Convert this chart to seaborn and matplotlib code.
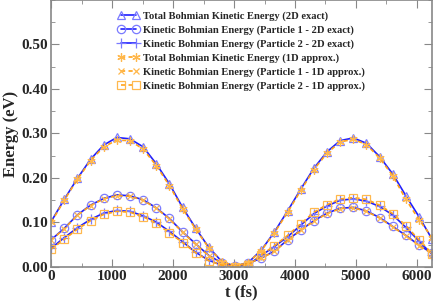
import numpy as np
import pandas as pd
import matplotlib
matplotlib.use("Agg")
import matplotlib.pyplot as plt
import seaborn as sns
from matplotlib.ticker import MultipleLocator

sns.set_style("ticks")
plt.rcParams['font.family'] = ['Liberation Serif', 'DejaVu Serif']
plt.rcParams['font.weight'] = 'bold'

# time axis (fs)
t = [0, 215.5, 431, 646.5, 862, 1077.5, 1293, 1508.5, 1724, 1939.5,
     2155, 2370.5, 2586, 2801.5, 3017, 3232.5, 3448, 3663.5, 3879, 4094.5,
     4310, 4525.5, 4741, 4956.5, 5172, 5387.5, 5603, 5818.5, 6034, 6250]

# 2D exact
total_2d = [0.102, 0.152, 0.199, 0.242, 0.274, 0.291, 0.288, 0.270, 0.232, 0.187,
            0.134, 0.087, 0.044, 0.012, 0.002, 0.010, 0.038, 0.079, 0.126, 0.175,
            0.222, 0.259, 0.284, 0.290, 0.278, 0.248, 0.209, 0.160, 0.113, 0.062]
p1_2d = [0.061, 0.087, 0.117, 0.139, 0.154, 0.162, 0.160, 0.151, 0.133, 0.109,
         0.079, 0.052, 0.026, 0.009, 0.002, 0.008, 0.020, 0.036, 0.061, 0.083,
         0.104, 0.121, 0.132, 0.134, 0.126, 0.111, 0.091, 0.071, 0.049, 0.031]
p2_2d = [0.042, 0.066, 0.088, 0.107, 0.121, 0.127, 0.125, 0.115, 0.101, 0.080,
         0.057, 0.033, 0.015, 0.004, 0.001, 0.005, 0.026, 0.046, 0.068, 0.094,
         0.120, 0.137, 0.150, 0.153, 0.148, 0.136, 0.117, 0.089, 0.058, 0.028]

# 1D approx.
total_1d = [0.100, 0.150, 0.197, 0.239, 0.270, 0.285, 0.284, 0.265, 0.228, 0.183,
            0.131, 0.085, 0.043, 0.012, 0.002, 0.010, 0.037, 0.077, 0.123, 0.172,
            0.219, 0.256, 0.281, 0.287, 0.275, 0.245, 0.205, 0.152, 0.106, 0.066]
p1_1d = [0.060, 0.086, 0.116, 0.138, 0.153, 0.160, 0.159, 0.150, 0.132, 0.108,
         0.078, 0.051, 0.025, 0.008, 0.002, 0.008, 0.020, 0.035, 0.060, 0.082,
         0.103, 0.120, 0.131, 0.133, 0.125, 0.110, 0.090, 0.070, 0.048, 0.030]
p2_1d = [0.040, 0.062, 0.085, 0.104, 0.118, 0.125, 0.123, 0.113, 0.098, 0.077,
         0.055, 0.032, 0.014, 0.004, 0.001, 0.005, 0.027, 0.048, 0.071, 0.097,
         0.123, 0.140, 0.153, 0.156, 0.152, 0.139, 0.120, 0.093, 0.061, 0.030]

labels = ["Total Bohmian Kinetic Energy (2D exact)",
          "Kinetic Bohmian Energy (Particle 1 - 2D exact)",
          "Kinetic Bohmian Energy (Particle 2 - 2D exact)",
          "Total Bohmian Kinetic Energy (1D approx.)",
          "Kinetic Bohmian Energy (Particle 1 - 1D approx.)",
          "Kinetic Bohmian Energy (Particle 2 - 1D approx.)"]

blue = "#1f1fff"
blue_m = "#7a7aff"
orange = "#ffa31a"
orange_m = "#ffb84d"
dash = (0, (2.5, 2))

fig = plt.figure(figsize=(4.37, 3.01), dpi=100)
ax = fig.add_axes([0.117, 0.113, 0.872, 0.887])

series = [
    (total_2d, blue, blue_m, '^', '-', 6),
    (p1_2d, blue, blue_m, 'o', '-', 6),
    (p2_2d, blue, blue_m, '+', '-', 7),
    (total_1d, orange, orange_m, (6, 2, 0), dash, 6),
    (p1_1d, orange, orange_m, 'x', dash, 5),
    (p2_1d, orange, orange_m, 's', dash, 5.5),
]

for (vals, lc, mc, mk, ls, ms), lab in zip(series, labels):
    sns.lineplot(x=t, y=vals, ax=ax, color=lc, linestyle=ls, linewidth=1.2,
                 marker=mk, markersize=ms, markerfacecolor='none',
                 markeredgecolor=mc, markeredgewidth=0.9, label=lab)

ax.set_xlim(0, 6250)
ax.set_ylim(0, 0.6)
ax.xaxis.set_major_locator(MultipleLocator(1000))
ax.xaxis.set_minor_locator(MultipleLocator(500))
ax.yaxis.set_major_locator(MultipleLocator(0.1))
ax.yaxis.set_minor_locator(MultipleLocator(0.05))
ax.set_yticks([0.0, 0.1, 0.2, 0.3, 0.4, 0.5])
ax.set_yticklabels(["0.00", "0.10", "0.20", "0.30", "0.40", "0.50"])
ax.tick_params(which='both', direction='in', top=True, right=True,
               color='#888888', labelsize=11, pad=2)
ax.tick_params(which='major', length=6)
ax.tick_params(which='minor', length=3)
for lbl in ax.get_xticklabels() + ax.get_yticklabels():
    lbl.set_fontweight('bold')
for sp in ax.spines.values():
    sp.set_color('#888888')
    sp.set_linewidth(1.2)

ax.set_xlabel("t (fs)", fontsize=12, fontweight='bold', labelpad=1)
ax.set_ylabel("Energy (eV)", fontsize=12, fontweight='bold', labelpad=2)

ax.legend(loc='upper left', bbox_to_anchor=(0.155, 0.985), frameon=False,
          numpoints=2, handlelength=2.0, handletextpad=0.4,
          labelspacing=0.42, borderpad=0.2, prop={'weight': 'bold', 'size': 7.6})

fig.savefig("out.png", dpi=100)
